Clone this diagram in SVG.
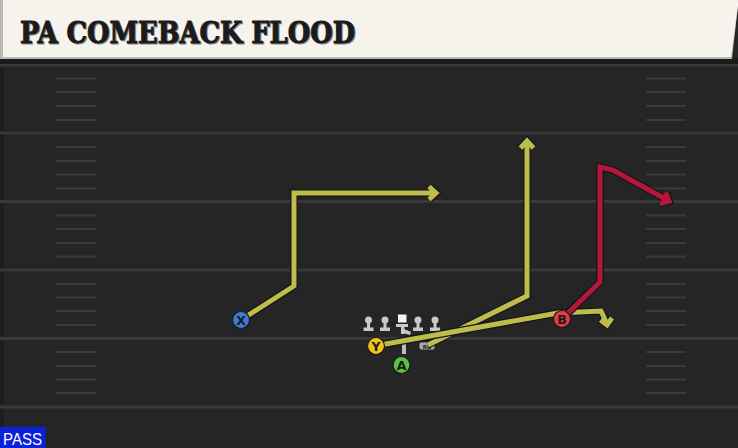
<svg xmlns="http://www.w3.org/2000/svg" width="738" height="448" viewBox="0 0 738 448">
<defs>
<style>
.yard{stroke:#393939;stroke-width:3}
.hash{stroke:#3a3a3a;stroke-width:2}
.out{fill:none;stroke:#151515;stroke-width:7.5;stroke-linejoin:miter;stroke-linecap:butt}
.yel{fill:none;stroke:#bdbc4c;stroke-width:5;stroke-linejoin:miter;stroke-linecap:butt}
.red{fill:none;stroke:#b4173b;stroke-width:5;stroke-linejoin:miter;stroke-linecap:butt}
.lbl{font-family:"DejaVu Sans","Liberation Sans",sans-serif;font-weight:bold;font-size:12.5px;fill:#1a1a1a;text-anchor:middle}
.ol{fill:#c9c9c9}
.node{stroke:#1a1a1a;stroke-width:1.2}
</style>
</defs>
<rect x="0" y="0" width="738" height="448" fill="#252525"/>
<rect x="0" y="0" width="4" height="448" fill="#1d1d1d"/>
<g id="field">
<line class="yard" x1="0" y1="65" x2="738" y2="65"/>
<line class="yard" x1="0" y1="133" x2="738" y2="133"/>
<line class="yard" x1="0" y1="201.5" x2="738" y2="201.5"/>
<line class="yard" x1="0" y1="270" x2="738" y2="270"/>
<line class="yard" x1="0" y1="338.5" x2="738" y2="338.5"/>
<line class="yard" x1="0" y1="407" x2="738" y2="407"/>
<g id="hashes-left">
<line class="hash" x1="56" y1="78.5" x2="96" y2="78.5"/>
<line class="hash" x1="56" y1="92" x2="96" y2="92"/>
<line class="hash" x1="56" y1="106" x2="96" y2="106"/>
<line class="hash" x1="56" y1="120" x2="96" y2="120"/>
<line class="hash" x1="56" y1="147" x2="96" y2="147"/>
<line class="hash" x1="56" y1="161" x2="96" y2="161"/>
<line class="hash" x1="56" y1="174.5" x2="96" y2="174.5"/>
<line class="hash" x1="56" y1="188.5" x2="96" y2="188.5"/>
<line class="hash" x1="56" y1="215.5" x2="96" y2="215.5"/>
<line class="hash" x1="56" y1="229" x2="96" y2="229"/>
<line class="hash" x1="56" y1="243" x2="96" y2="243"/>
<line class="hash" x1="56" y1="256.5" x2="96" y2="256.5"/>
<line class="hash" x1="56" y1="284" x2="96" y2="284"/>
<line class="hash" x1="56" y1="297.5" x2="96" y2="297.5"/>
<line class="hash" x1="56" y1="311" x2="96" y2="311"/>
<line class="hash" x1="56" y1="325" x2="96" y2="325"/>
<line class="hash" x1="56" y1="352" x2="96" y2="352"/>
<line class="hash" x1="56" y1="366" x2="96" y2="366"/>
<line class="hash" x1="56" y1="379.5" x2="96" y2="379.5"/>
<line class="hash" x1="56" y1="393" x2="96" y2="393"/>
</g>
<g id="hashes-right">
<line class="hash" x1="646" y1="78.5" x2="686" y2="78.5"/>
<line class="hash" x1="646" y1="92" x2="686" y2="92"/>
<line class="hash" x1="646" y1="106" x2="686" y2="106"/>
<line class="hash" x1="646" y1="120" x2="686" y2="120"/>
<line class="hash" x1="646" y1="147" x2="686" y2="147"/>
<line class="hash" x1="646" y1="161" x2="686" y2="161"/>
<line class="hash" x1="646" y1="174.5" x2="686" y2="174.5"/>
<line class="hash" x1="646" y1="188.5" x2="686" y2="188.5"/>
<line class="hash" x1="646" y1="215.5" x2="686" y2="215.5"/>
<line class="hash" x1="646" y1="229" x2="686" y2="229"/>
<line class="hash" x1="646" y1="243" x2="686" y2="243"/>
<line class="hash" x1="646" y1="256.5" x2="686" y2="256.5"/>
<line class="hash" x1="646" y1="284" x2="686" y2="284"/>
<line class="hash" x1="646" y1="297.5" x2="686" y2="297.5"/>
<line class="hash" x1="646" y1="311" x2="686" y2="311"/>
<line class="hash" x1="646" y1="325" x2="686" y2="325"/>
<line class="hash" x1="646" y1="352" x2="686" y2="352"/>
<line class="hash" x1="646" y1="366" x2="686" y2="366"/>
<line class="hash" x1="646" y1="379.5" x2="686" y2="379.5"/>
<line class="hash" x1="646" y1="393" x2="686" y2="393"/>
</g>
</g>
<g id="header">
<rect x="0" y="58" width="738" height="6" fill="#1a1a1a"/>
<path d="M0,0 H738 V6 L732,59 H0 Z" fill="#b9b7b2"/>
<path d="M3,0 H738 V5 L731,57 H3 Z" fill="#f5f3ec"/>
<text x="21" y="43.5" font-family="'DejaVu Serif','Liberation Serif',serif" font-weight="bold" font-size="29" textLength="335" lengthAdjust="spacingAndGlyphs" fill="#8a8a8a" stroke="#8a8a8a" stroke-width="1">PA COMEBACK FLOOD</text>
<text x="20" y="42.5" font-family="'DejaVu Serif','Liberation Serif',serif" font-weight="bold" font-size="29" textLength="335" lengthAdjust="spacingAndGlyphs" fill="#1b1b1b" stroke="#1b1b1b" stroke-width="1">PA COMEBACK FLOOD</text>
</g>
<g id="formation">
<g id="linemen" class="ol">
<circle cx="368.5" cy="320" r="3.5"/><rect x="367" y="320" width="3" height="8"/><rect x="363.5" y="327.5" width="10" height="3.5"/>
<circle cx="385" cy="320" r="3.5"/><rect x="383.5" y="320" width="3" height="8"/><rect x="380" y="327.5" width="10" height="3.5"/>
<circle cx="418" cy="320" r="3.5"/><rect x="416.5" y="320" width="3" height="8"/><rect x="413" y="327.5" width="10" height="3.5"/>
<circle cx="435" cy="320" r="3.5"/><rect x="433.5" y="320" width="3" height="8"/><rect x="430" y="327.5" width="10" height="3.5"/>
</g>
<g id="center">
<rect x="398" y="314.5" width="8.5" height="8" fill="#f4f4f4"/>
</g>
<g id="qb" fill="#c9c9c9">
<rect x="396" y="324" width="12" height="3"/>
<rect x="401" y="324" width="3.5" height="10"/>
<path d="M404,329 L411,332 L410,335 L403,333 Z"/>
<rect x="402" y="340" width="4" height="14" fill="#bdbdbd"/>
</g>
<g id="rb">
<rect x="419" y="342" width="16" height="8" rx="2.5" fill="#a9a9a9" stroke="#1a1a1a" stroke-width="0.8"/>
<text x="427" y="348.5" font-family="'DejaVu Sans',sans-serif" font-weight="bold" font-size="5.5" fill="#222" text-anchor="middle">RB</text>
</g>
</g>
<g id="connectors">
<g id="route-x">
<polyline class="out" points="244,318 294,286 294,193 436,193"/>
<polyline class="out" points="429,186.5 436,193 429,199.5"/>
<polyline class="yel" points="244,318 294,286 294,193 436,193"/>
<polyline class="yel" points="429,186.5 436,193 429,199.5"/>
</g>
<g id="route-rb">
<polyline class="out" points="428,345 527,296 527,141"/>
<polyline class="out" points="520.5,148 527,141 533.5,148"/>
<polyline class="yel" points="428,345 527,296 527,141"/>
<polyline class="yel" points="520.5,148 527,141 533.5,148"/>
</g>
<g id="route-y">
<polyline class="out" points="380,345 558,313 601,311 607,324"/>
<polyline class="out" points="600.5,320 607,325 612,318"/>
<polyline class="yel" points="380,345 558,313 601,311 607,324"/>
<polyline class="yel" points="600.5,320 607,325 612,318"/>
</g>
<g id="route-b">
<polyline class="out" points="564,317 600,282 600,167 613,170 669,201"/>
<polyline class="out" points="660,203.5 669,201 665.5,192.5"/>
<polyline class="red" points="564,317 600,282 600,167 613,170 669,201"/>
<polyline class="red" points="660,203.5 669,201 665.5,192.5"/>
</g>
</g>
<g id="node-x">
<circle class="node" cx="241" cy="320" r="8.5" fill="#3c7bd8"/>
<text class="lbl" x="241" y="324.5">X</text>
</g>
<g id="node-y">
<circle class="node" cx="376" cy="346" r="8.5" fill="#f2c21c"/>
<text class="lbl" x="376" y="350.5">Y</text>
</g>
<g id="node-a">
<circle class="node" cx="401.5" cy="365" r="8.5" fill="#5cc13e"/>
<text class="lbl" x="401.5" y="369.5">A</text>
</g>
<g id="node-b">
<circle class="node" cx="562" cy="319" r="8.5" fill="#e53b40"/>
<text class="lbl" x="562" y="323.5">B</text>
</g>
<g id="pass-label">
<rect x="0" y="427" width="45.5" height="21" fill="#0b22dc"/>
<text x="3" y="445" font-family="'Liberation Sans','DejaVu Sans',sans-serif" font-size="17" textLength="39" lengthAdjust="spacingAndGlyphs" fill="#ffffff">PASS</text>
</g>
</svg>
